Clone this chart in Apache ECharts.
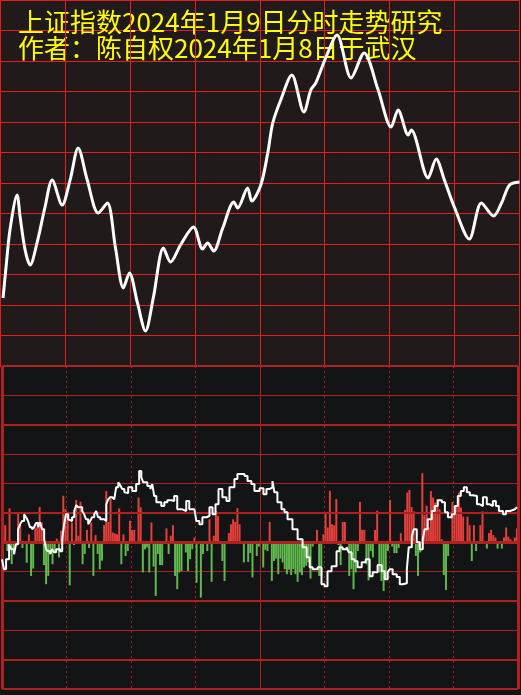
<!DOCTYPE html>
<html><head><meta charset="utf-8">
<style>html,body{margin:0;padding:0;background:#131416;}#c{width:521px;height:695px;}</style>
<script src="https://cdn.jsdelivr.net/npm/echarts@6/dist/echarts.min.js"></script>
</head><body><div id="c"></div>
<script>
const titleLines = ['上证指数2024年1月9日分时走势研究', '作者：陈自权2024年1月8日于武汉'];

// top panel: smoothed index (minute of session, index level)
const priceMinutes = [1.4,2.8,4.6,7.9,9.3,11.6,13.9,17.1,20.8,24.1,28.7,32.4,36.1,40.3,45.4,49.6,53.3,57,59.8,63.5,67.2,70.9,75.5,78.8,83.4,89.4,93.6,95.9,98.7,102.9,108,109.8,114.4,116.3,120.5,123.7,126,129.7,134.8,140.4,143.6,145.9,150.6,155.7,162.2,168.2,174.7,180.7,183.9,188.6,190,197.8,201.5,205.3,209.9,216.8,222.4,228,231.7,235.4,240];
const priceValues = [2874.69,2877.74,2881.38,2884.82,2882.66,2879.41,2877.93,2880.10,2883.64,2886.30,2883.84,2886.30,2889.44,2886.30,2883.05,2884.03,2879.70,2875.67,2877.15,2874.20,2871.44,2874.79,2879.61,2878.23,2879.90,2881.67,2879.51,2880.10,2879.31,2881.57,2884.13,2883.54,2885.51,2884.23,2885.80,2888.95,2891.90,2894.16,2896.62,2892.98,2895.15,2895.84,2898.39,2900.56,2896.33,2898.79,2895.15,2891.51,2893.18,2890.72,2891.21,2886.49,2888.36,2886.30,2883.64,2880.49,2884.03,2882.75,2884.03,2885.80,2886.10];

// bottom panel: per-minute flow bars (red up / green down)
const flowValues = [
0,0.58,-0.3,1.15,-0.75,-0.4,0,1.01,0.58,-0.2,
0,-0.7,0.27,-1.15,-0.9,0.5,0.6,1.2,0.67,-0.78,
-1.43,-1.15,-0.4,-0.75,-0.35,0.12,-0.52,0.39,1.58,1.13,
0.9,-1.47,0.67,-0.1,1.44,0.22,1.38,-0.75,-0.4,0.42,
-0.2,0.67,-1.15,0.24,-0.4,-0.92,-0.63,0.58,1.74,0.69,
1.49,0.33,0.3,0.27,1.15,-0.75,0.27,-0.47,-0.3,0.73,
0.42,0.42,-0.05,1.52,1.19,-1.03,-0.24,-0.18,-1.03,0.67,
-0.83,-1.83,-0.4,-0.78,-0.78,0,0.47,-0.4,0.22,0.58,
-1.15,-1.6,-1.03,-0.98,0,-0.35,-0.98,-0.58,-0.24,0.16,
-1.38,0,-1.89,-0.4,0,-0.3,0.78,-1.35,0.22,1.07,
0.9,0,-0.64,-1.32,0,0.31,0.61,0.78,0.69,1.16,
0.61,0,-0.69,0,-0.67,-0.37,-1.2,0,-0.47,-0.15,
0,-0.86,-0.26,-0.3,0.69,-1.32,-0.64,-0.56,-1.09,-0.56,
-0.69,-0.92,-1.09,-0.94,-1.12,-0.92,-1.09,-1.35,-1.03,-1.12,
-0.86,-0.8,-0.69,-1.24,-0.15,0,0.42,-1.15,-1.15,0.27,
1.01,0.5,1.75,0.61,0.58,1.47,-0.1,-0.78,0.69,0.69,
0,-1.15,-0.92,-1.6,-1.03,-0.3,1.37,0.42,0.42,-0.75,
-1.3,-0.3,-0.52,0.42,1.07,-1.03,-1.32,-1.66,-1.24,-0.3,
1.44,-0.15,-0.37,-0.37,-0.2,0.31,0,1.1,1.69,1.78,
1.2,1.05,-0.47,-1.15,-0.35,2.35,0.92,1.24,0.5,1.74,
1.52,1.35,1.47,1.12,0.1,-1.12,-1.63,-0.47,0,1.37,
1.12,1.26,1.69,1.18,0.87,0,0.87,0.58,-0.64,0.58,
-0.3,0,0.58,1.05,0,-0.22,0.31,0.42,0.24,0.16,
-0.22,0,-0.22,0.16,0.5,0.19,0.1,0,0.16,0.47];

// bottom panel: stepped strength line
const strengthMinutes = [0,0.9,1.9,3.3,4.2,5.6,6.5,7.5,8.4,9.3,10.3,11.2,12.1,13,14,14.9,15.8,16.8,17.7,18.6,19.6,20.5,21.4,22.4,23.3,24.2,25.2,26.1,27,28,28.9,29.8,30.8,31.7,32.6,33.6,34.5,35.4,36.3,37.3,38.2,39.1,40.1,41,41.9,42.9,43.8,44.7,45.7,46.6,47.5,48.5,49.4,50.3,51.3,52.2,53.1,54.1,55,55.9,56.9,57.8,58.7,60.6,62.4,63.8,64.8,65.7,67.6,69,69.9,70.8,71.8,74.1,75.5,76.9,78.8,80.1,81.5,83.9,85.7,87.1,89.5,90.4,91.8,93.2,95.1,96.5,97.9,99.3,100.7,102.5,104.4,105.8,108.1,109.5,112.8,114.2,116,117.4,119.8,121.6,123,124.4,125.8,126.7,128.1,130,131.4,132.8,135.1,137.5,139.8,141.7,143.1,144.5,146.8,148.6,150,151.4,153.3,155.6,157,158.4,160.3,161.2,162.6,164,165.4,167.3,169.2,171,172.4,174.7,176.6,178,179.4,180.3,181.7,183.6,185,186.4,188.3,189.2,190.6,191.5,192.9,194.3,195.7,196.6,198,199.9,201.3,202.7,204.6,206,207.4,209.2,210.6,212,213.4,214.8,216.2,217.6,219,220.9,222.3,223.7,225.5,226.9,228.3,229.7,231.1,233,234.4,236.3,238.6,239.5];
const strengthValues = [-0.58,-0.92,-0.58,-0.07,-0.24,-0.41,-0.07,0.44,0.61,0.72,0.95,0.85,0.72,0.51,0.44,0.51,0.65,0.51,0.68,0.44,0.10,-0.24,-0.31,-0.41,-0.24,-0.34,-0.24,-0.24,-0.31,0.10,0.61,0.95,0.78,0.72,0.85,1.06,1.26,1.19,1.19,1.06,0.95,0.78,0.61,0.72,0.85,0.95,1.06,0.85,0.78,0.78,0.72,1.29,1.46,1.53,1.53,1.46,1.87,2.04,1.94,1.81,1.70,1.67,1.87,1.74,1.98,2.42,2.21,2.04,1.91,1.81,1.98,1.57,1.36,1.23,1.36,1.43,1.40,1.57,1.12,1.06,1.40,1.12,1.06,0.72,0.61,0.85,0.89,1.19,0.95,1.29,1.81,1.53,1.40,1.87,2.15,2.32,2.25,2.08,1.98,1.74,1.84,1.63,1.81,1.87,2.08,1.70,1.36,1.12,1.02,0.78,0.44,0.10,-0.17,-0.51,-0.85,-0.92,-0.85,-1.43,-1.50,-0.99,-0.82,-0.31,-0.17,-0.24,-0.17,-0.34,-0.58,-0.65,-0.85,-0.68,-0.58,-1.16,-1.02,-0.78,-0.99,-1.26,-1.02,-0.92,-1.09,-1.19,-1.43,-1.40,-0.92,-0.17,0.20,0.44,0,-0.24,0.10,0.44,0.78,1.06,1.23,1.43,1.36,1.02,0.85,0.95,1.23,1.57,1.74,1.87,1.70,1.60,1.57,1.29,1.23,1.53,1.29,1.23,1.40,1.23,1.06,0.95,1.06,1.12,1.16,1.19];

// reference levels
const thickLevels = [6, 4, 1, -2, -4, -5];
const baseLevel = 0;
const sessionMarks = [0, 120, 240];
const topColumnMarks = [0, 30, 60, 90, 120, 150, 180, 210, 240];

const minuteCats = flowValues.map((v, i) => String(i));
const pricePoints = priceMinutes.map((m, i) => [m, priceValues[i]]);
const strengthPoints = strengthMinutes.map((m, i) => [m, strengthValues[i]]);

const chart = echarts.init(document.getElementById('c'), null, {renderer: 'canvas'});
const topRed = '#e41e1c';
const lowRed = '#b0201e';
const noAxis = {axisLine: {show: false}, axisTick: {show: false}, axisLabel: {show: false}};

chart.setOption({
  animation: false,
  backgroundColor: '#131416',
  title: {
    text: titleLines.join('\n'), left: 18, top: 9, padding: 0, z: 1,
    textStyle: {color: '#ffff00', fontSize: 26, fontWeight: 'normal', fontFamily: '"Noto Sans CJK SC"', lineHeight: 26}
  },
  grid: [
    {left: -0.5, top: 0, width: 520, height: 366, show: true, backgroundColor: '#201b1a', borderWidth: 0},
    {left: 2, top: 366, width: 516, height: 323, show: true, backgroundColor: '#131416', borderWidth: 0}
  ],
  xAxis: [
    Object.assign({gridIndex: 0, type: 'value', min: 0, max: 240, interval: 30,
      splitLine: {show: false}}, noAxis),
    Object.assign({gridIndex: 1, type: 'category', data: minuteCats, boundaryGap: true,
      splitLine: {show: false}}, noAxis),
    Object.assign({gridIndex: 1, type: 'value', min: 0, max: 240, interval: 30,
      splitLine: {show: true, showMinLine: false, showMaxLine: false, lineStyle: {color: '#9e2220', width: 1, type: [2, 3]}}}, noAxis)
  ],
  yAxis: [
    Object.assign({gridIndex: 0, type: 'value', min: 2868, max: 2904, interval: 3,
      splitLine: {show: true, lineStyle: {color: topRed, width: 1}}}, noAxis),
    Object.assign({gridIndex: 1, type: 'value', min: -5, max: 6, interval: 1,
      splitLine: {show: true, lineStyle: {color: lowRed, width: 1}}}, noAxis)
  ],
  series: [
    {
      type: 'line', xAxisIndex: 0, yAxisIndex: 0, data: [], z: 1, silent: true,
      markLine: {
        silent: true, symbol: 'none', animation: false, label: {show: false},
        lineStyle: {color: topRed, width: 1, type: 'solid'},
        data: topColumnMarks.map(m => ({xAxis: m}))
      }
    },
    {
      type: 'line', xAxisIndex: 0, yAxisIndex: 0, data: pricePoints, smooth: 0.3,
      showSymbol: false, z: 10, lineStyle: {color: '#ffffff', width: 3}
    },
    {
      type: 'bar', xAxisIndex: 1, yAxisIndex: 1, data: flowValues, barCategoryGap: '8%', z: 2,
      itemStyle: {color: p => p.value >= 0 ? '#e5403a' : '#5fb94d'},
      markLine: {
        silent: true, symbol: 'none', animation: false, label: {show: false},
        lineStyle: {color: lowRed, width: 2, type: 'solid'},
        data: thickLevels.map(v => ({yAxis: v})).concat([{yAxis: baseLevel, lineStyle: {color: lowRed, width: 3, type: 'solid'}}])
      }
    },
    {
      type: 'line', xAxisIndex: 2, yAxisIndex: 1, data: strengthPoints, step: 'end',
      showSymbol: false, z: 5, lineStyle: {color: '#ffffff', width: 2},
      markLine: {
        silent: true, symbol: 'none', animation: false, label: {show: false},
        data: sessionMarks.map(m => ({xAxis: m, lineStyle: {color: lowRed, type: 'solid', width: (m === 120 ? 1 : 3)}}))
      }
    }
  ]
});
</script>
</body></html>
